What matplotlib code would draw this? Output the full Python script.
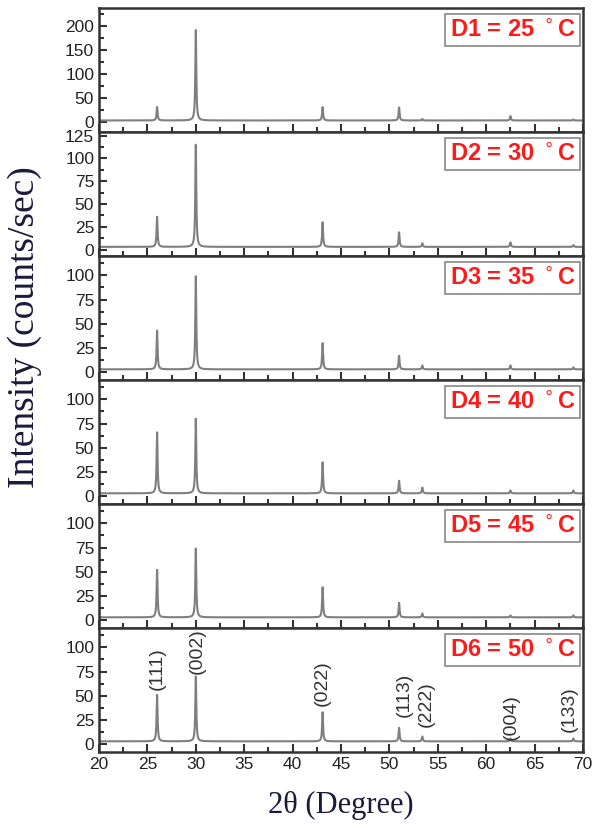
import numpy as np
import matplotlib
matplotlib.use("Agg")
import matplotlib.pyplot as plt
from matplotlib.ticker import MultipleLocator

# Reflection positions (2-theta, degrees) and Miller indices
peak_pos = [26.0, 30.0, 43.1, 51.0, 53.4, 62.5, 69.0]
hkl = ["(111)", "(002)", "(022)", "(113)", "(222)", "(004)", "(133)"]

# Peak heights above the background for each deposition temperature
samples = ["D1 = 25", "D2 = 30", "D3 = 35", "D4 = 40", "D5 = 45", "D6 = 50"]
h_d1 = [28, 188, 28, 27, 3, 9, 2]
h_d2 = [33, 112, 27, 16, 4, 5, 2]
h_d3 = [40, 96, 27, 14, 4, 4, 2]
h_d4 = [63, 77, 32, 13, 6, 3, 3]
h_d5 = [49, 71, 31, 15, 4, 2, 2]
h_d6 = [48, 67, 30, 14, 5, 3, 3]
heights = [h_d1, h_d2, h_d3, h_d4, h_d5, h_d6]
background = 3

y_limits = [(-21, 237), (-7, 129), (-8, 120), (-8, 120), (-8, 120), (-8, 120)]
y_major = [50, 25, 25, 25, 25, 25]
y_top_tick = [200, 125, 100, 100, 100, 100]

# Label placement for the indexed reflections (bottom panel), data units
label_y = [56, 72, 39, 28, 17.5, 4, 13]
label_dx = [0, 0.1, 0, 0.5, 0.4, 0.1, -0.4]

W, H = 597, 833
fig = plt.figure(figsize=(W / 100, H / 100), dpi=100)
fig.patch.set_facecolor("white")

left, right = 99 / W, 583 / W
top_px, bot_px = 8, 752
panel_h = (bot_px - top_px) / 6

x = np.linspace(20, 70, 5001)
hwhm = 0.06
line_col = "#7f7f7f"
axis_col = "#333333"
sans = ["Liberation Sans", "DejaVu Sans"]
serif = ["Liberation Serif", "DejaVu Serif"]

axes = []
for i in range(6):
    y0 = 1 - (top_px + (i + 1) * panel_h) / H
    ax = fig.add_axes([left, y0, right - left, panel_h / H])
    axes.append(ax)
    y = np.full_like(x, background, dtype=float)
    for p, h in zip(peak_pos, heights[i]):
        y += h / (1 + ((x - p) / hwhm) ** 2)
    ax.plot(x, y, color=line_col, lw=1.5)
    ax.set_xlim(20, 70)
    ax.set_ylim(*y_limits[i])
    ax.xaxis.set_major_locator(MultipleLocator(5))
    ax.xaxis.set_minor_locator(MultipleLocator(2.5))
    ax.set_yticks(np.arange(0, y_top_tick[i] + 1, y_major[i]))
    ax.yaxis.set_minor_locator(MultipleLocator(y_major[i] / 2))
    ax.tick_params(which="both", direction="in", top=False, right=False,
                   colors=axis_col, width=1.5, labelsize=12.5,
                   labelcolor="#222222")
    ax.tick_params(which="major", length=6)
    ax.tick_params(which="minor", length=3.5)
    for lab in ax.get_yticklabels() + ax.get_xticklabels():
        lab.set_family(sans)
    for s in ax.spines.values():
        s.set_color(axis_col)
        s.set_linewidth(1.8)
    if i < 5:
        ax.tick_params(labelbottom=False)

    # Sample tag in the upper right corner
    ax.text(0.985, 0.915, samples[i] + r" $^\circ$C", transform=ax.transAxes,
            ha="right", va="top", color="#ff1a1a", fontsize=17,
            fontweight="bold", family=sans,
            bbox=dict(boxstyle="square,pad=0.2", fc="white",
                      ec="#888888", lw=1.2))

# Indexed reflections on the bottom panel
ax6 = axes[-1]
for p, lab, ly, dx in zip(peak_pos, hkl, label_y, label_dx):
    ax6.text(p + dx, ly, lab, rotation=90, ha="center", va="bottom",
             fontsize=14, family=sans, color="#333333")

fig.text(25 / W, 1 - 327 / H, "Intensity (counts/sec)", rotation=90,
         ha="center", va="center", fontsize=27, family=serif,
         color="#1a1a3a")
fig.text(341 / W, 1 - 805 / H, "2θ (Degree)", ha="center", va="center",
         fontsize=22, family=serif, color="#1a1a3a")

fig.savefig("out.png", dpi=100, facecolor="white")
